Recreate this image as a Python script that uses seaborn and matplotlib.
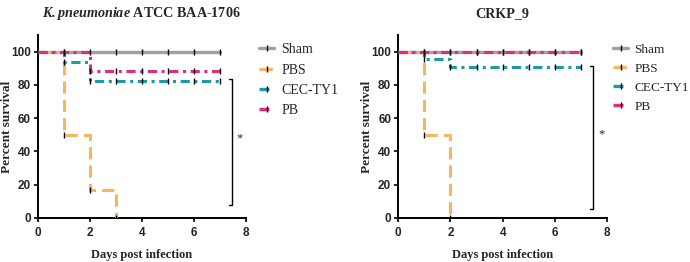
import seaborn as sns
import matplotlib.pyplot as plt
import numpy as np
import pandas as pd
from matplotlib.lines import Line2D

sns.set_style("ticks")
plt.rcParams['font.family'] = ['Liberation Serif', 'DejaVu Serif']
plt.rcParams['mathtext.fontset'] = 'custom'
plt.rcParams['mathtext.rm'] = 'Liberation Serif'
plt.rcParams['mathtext.bf'] = 'Liberation Serif:bold'
plt.rcParams['mathtext.it'] = 'Liberation Serif:italic'
plt.rcParams['mathtext.bfit'] = 'Liberation Serif:italic:bold'

days = [0, 1, 2, 3, 4, 5, 6, 7]
groups = ['Sham', 'PBS', 'CEC-TY1', 'PB']

# survival (%) at each day, step-post
kp_sham = [100, 100, 100, 100, 100, 100, 100, 100]
kp_pbs = [100, 50, 16.7, 0, None, None, None, None]
kp_cec = [100, 94.1, 82.4, 82.4, 82.4, 82.4, 82.4, 82.4]
kp_pb = [100, 100, 88.2, 88.2, 88.2, 88.2, 88.2, 88.2]

crkp_sham = [100, 100, 100, 100, 100, 100, 100, 100]
crkp_pbs = [100, 50, 0, None, None, None, None, None]
crkp_cec = [100, 95.5, 90.9, 90.9, 90.9, 90.9, 90.9, 90.9]
crkp_pb = [100, 100, 100, 100, 100, 100, 100, 100]

colors = {'Sham': '#a0a0a0', 'PBS': '#f7b55e', 'CEC-TY1': '#1b9aaa', 'PB': '#e62a7b'}
dashes = {'Sham': (None, None), 'PBS': (4, 2), 'CEC-TY1': (3, 1.5, 1, 1.5), 'PB': (3, 1.5, 1, 1.5)}
zorder = {'Sham': 2, 'PBS': 3, 'CEC-TY1': 4, 'PB': 5}


def make_df(sham, pbs, cec, pb):
    rows = []
    for g, vals in zip(groups, [sham, pbs, cec, pb]):
        for d, v in zip(days, vals):
            if v is not None:
                rows.append((g, d, v))
    return pd.DataFrame(rows, columns=['group', 'day', 'survival'])


panels = [
    (make_df(kp_sham, kp_pbs, kp_cec, kp_pb), (7.46, 83.7, 7.8), 1.065, 10),
    (make_df(crkp_sham, crkp_pbs, crkp_cec, crkp_pb), (7.47, 91.5, 5.4), 1.03, 9.5),
]

fig = plt.figure(figsize=(6.9, 2.62), dpi=100)
axes = [fig.add_axes([0.055, 0.168, 0.301, 0.698]),
        fig.add_axes([0.577, 0.168, 0.303, 0.698])]

for ax, (df, br, lx, lfs) in zip(axes, panels):
    for g in groups:
        sub = df[df.group == g]
        d = dashes[g]
        sns.lineplot(data=sub, x='day', y='survival', ax=ax, color=colors[g],
                     lw=2.2 if g != 'Sham' else 2.4, drawstyle='steps-post',
                     zorder=zorder[g], errorbar=None, legend=False,
                     dashes=False, linestyle='-' if d[0] is None else (0, d))
        # censor ticks
        cens = sub[sub.day > 0]
        ax.plot(cens['day'], cens['survival'], ls='none', marker='|', color='black',
                ms=4, mew=1.0, zorder=6)
    ax.set_xlim(0, 8)
    ax.set_ylim(0, 110)
    ax.set_xticks([0, 2, 4, 6, 8])
    ax.set_yticks([0, 20, 40, 60, 80, 100])
    ax.set_xlabel('Days post infection', fontsize=9, fontweight='bold', labelpad=7)
    ax.set_ylabel('Percent survival', fontsize=9.5, fontweight='bold')
    ax.yaxis.set_label_coords(-0.118, 0.5)
    for lab in ax.get_xticklabels() + ax.get_yticklabels():
        lab.set_family(['Liberation Sans Narrow', 'Liberation Sans', 'DejaVu Sans'])
        lab.set_fontweight('bold')
        lab.set_fontsize(8.5)
    ax.tick_params(length=3, width=1.2, pad=2, color='black')
    ax.tick_params(axis='x', pad=3.5)
    for s in ['left', 'bottom']:
        ax.spines[s].set_linewidth(1.4)
        ax.spines[s].set_color('black')
    sns.despine(ax=ax)
    # significance bracket
    bx, btop, bbot = br
    ax.plot([bx - 0.12, bx, bx, bx - 0.12], [btop, btop, bbot, bbot], color='black',
            lw=1.0, clip_on=False)
    ax.text(bx + 0.3, (btop + bbot) / 2 + 2, '*', fontsize=9, ha='center', va='center',
            clip_on=False)
    handles = [Line2D([0], [0], color=colors[g], lw=2.4,
                      linestyle='-' if dashes[g][0] is None else (0, dashes[g]),
                      marker='|', mec='black', ms=4, mew=1.0) for g in groups]
    ax.legend(handles, groups, loc='upper left', bbox_to_anchor=(lx, 0.955),
              frameon=False, fontsize=lfs, handlelength=1.1, labelspacing=0.52,
              handletextpad=0.5, borderaxespad=0, borderpad=0)

axes[0].set_title(r'$\mathbfit{K.pneumoniae}$ ATCC BAA-1706', fontsize=10.2,
                  fontweight='bold', pad=13)
axes[1].set_title('CRKP_9', fontsize=10.2, fontweight='bold', pad=13)

fig.savefig('out.png', dpi=100)
